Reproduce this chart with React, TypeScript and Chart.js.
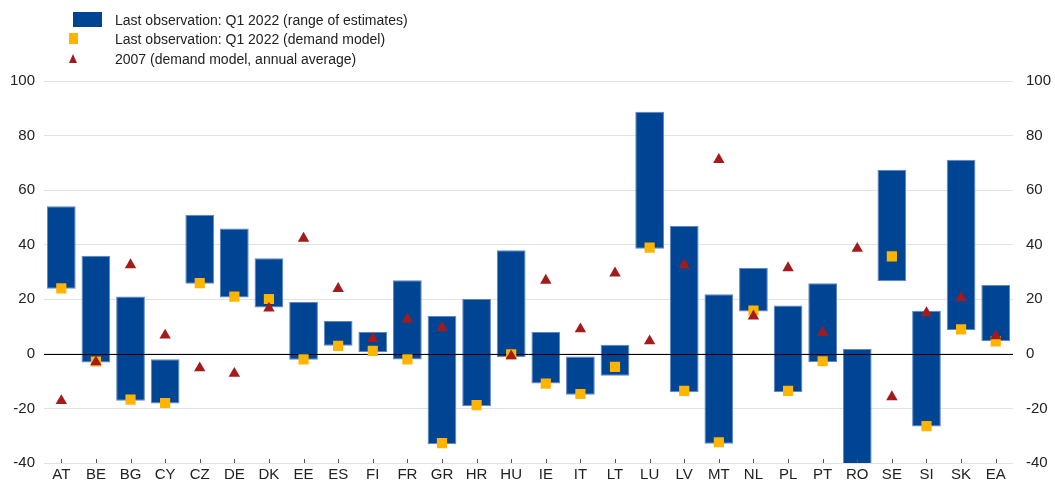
import React, { useEffect, useRef } from 'react';
import { Chart, registerables } from 'chart.js';
Chart.register(...registerables);

const categories = ['AT', 'BE', 'BG', 'CY', 'CZ', 'DE', 'DK', 'EE', 'ES', 'FI', 'FR', 'GR', 'HR', 'HU', 'IE', 'IT', 'LT', 'LU', 'LV', 'MT', 'NL', 'PL', 'PT', 'RO', 'SE', 'SI', 'SK', 'EA'];
const rangeLow = [23.9, -3.2, -17.2, -18.2, 25.7, 20.7, 17, -2.2, 3, 0.7, -2.1, -33.1, -19.2, -1.2, -10.9, -15, -8, 38.5, -14.1, -32.9, 15.5, -14, -3, -45, 26.6, -26.6, 8.7, 4.6];
const rangeHigh = [54.1, 36, 21, -2, 51, 45.9, 35, 19, 12, 8, 27, 13.9, 20.1, 38, 8, -1, 3.3, 88.7, 46.9, 21.8, 31.6, 17.7, 25.9, 1.8, 67.5, 15.8, 71.1, 25.2];
const demandModel = [24, -2.8, -16.8, -18, 25.9, 21, 20.1, -2, 2.9, 1.1, -2, -32.7, -18.8, -0.2, -10.9, -14.7, -4.8, 38.9, -13.6, -32.4, 15.9, -13.6, -2.7, null, 35.7, -26.5, 9, 4.6];
const avg2007 = [-17.2, -3, 32.6, 6.8, -5.2, -7.2, 16.7, 42.3, 23.9, 5.6, 12.7, 9.6, null, -0.8, 26.9, 9.1, 29.6, 4.7, 32.6, 71.2, 13.8, 31.5, 7.8, 38.6, -15.8, 15, 20.6, 6.6];
const yMin = -40;
const yMax = 100;
const yStep = 20;

const legendLabels = [
  'Last observation: Q1 2022 (range of estimates)',
  'Last observation: Q1 2022 (demand model)',
  '2007 (demand model, annual average)',
];

const BLUE = '#004494';
const YELLOW = '#FFB400';
const RED = '#A31B1B';
const FONT = "'Liberation Sans', Arial, sans-serif";

const overlayPlugin = {
  id: 'overlay',
  afterDatasetDraw(chart: any, args: any) {
    if (args.index !== 0) return;
    const { ctx, chartArea } = chart;
    const y = chart.scales.y.getPixelForValue(0);
    ctx.save();
    ctx.strokeStyle = '#000';
    ctx.lineWidth = 1;
    ctx.beginPath();
    ctx.moveTo(chartArea.left, Math.round(y) + 0.5);
    ctx.lineTo(chartArea.right, Math.round(y) + 0.5);
    ctx.stroke();
    ctx.restore();
  },
  afterDraw(chart: any) {
    const { ctx, chartArea } = chart;
    const xs = chart.scales.x;
    ctx.save();
    ctx.strokeStyle = '#555';
    ctx.lineWidth = 1;
    for (let i = 0; i < categories.length; i++) {
      const x = Math.round(xs.getPixelForValue(i)) + 0.5;
      ctx.beginPath();
      ctx.moveTo(x, chartArea.bottom - 4);
      ctx.lineTo(x, chartArea.bottom);
      ctx.stroke();
    }
    ctx.restore();
  },
};

export default function App() {
  const ref = useRef<HTMLCanvasElement | null>(null);
  useEffect(() => {
    if (!ref.current) return;
    const tickFont = { family: FONT, size: 15 };
    const chart = new Chart(ref.current, {
      type: 'bar',
      data: {
        labels: categories,
        datasets: [
          {
            type: 'bar',
            label: legendLabels[0],
            data: rangeLow.map((lo, i) => [lo, rangeHigh[i]]) as any,
            backgroundColor: BLUE,
            borderColor: '#5f86c2',
            borderWidth: 1,
            borderSkipped: false,
            barPercentage: 0.83,
            categoryPercentage: 1,
            order: 2,
            yAxisID: 'y',
          },
          {
            type: 'line',
            label: legendLabels[1],
            data: demandModel as any,
            showLine: false,
            pointStyle: 'rect',
            pointRadius: 7.2,
            backgroundColor: YELLOW,
            borderColor: YELLOW,
            pointBorderWidth: 0,
            order: 1,
            yAxisID: 'y',
          },
          {
            type: 'line',
            label: legendLabels[2],
            data: avg2007 as any,
            showLine: false,
            pointStyle: 'triangle',
            pointRadius: 6.6,
            backgroundColor: RED,
            borderColor: RED,
            pointBorderWidth: 0,
            order: 0,
            yAxisID: 'y',
          },
        ],
      },
      options: {
        animation: false,
        responsive: false,
        layout: { padding: { top: 81, left: 0, right: 0, bottom: 0 } },
        plugins: { legend: { display: false }, tooltip: { enabled: false }, title: { display: false } },
        scales: {
          x: {
            offset: true,
            grid: { display: false, drawTicks: false, offset: false },
            border: { display: false },
            ticks: { padding: 3, autoSkip: false, maxRotation: 0, color: '#222', font: tickFont },
            afterFit: (s: any) => { s.height = 20; },
          },
          y: {
            position: 'left',
            min: yMin,
            max: yMax,
            ticks: { stepSize: yStep, padding: 9, color: '#222', font: tickFont },
            grid: { color: '#e2e2e2', lineWidth: 1, drawTicks: false },
            border: { display: false },
            afterFit: (s: any) => { s.width = 44; },
          },
          y2: {
            position: 'right',
            min: yMin,
            max: yMax,
            ticks: { stepSize: yStep, padding: 13, color: '#222', font: tickFont },
            grid: { display: false, drawTicks: false },
            border: { display: false },
            afterFit: (s: any) => { s.width = 42; },
          },
        },
      } as any,
      plugins: [overlayPlugin],
    });
    return () => chart.destroy();
  }, []);

  const textStyle: React.CSSProperties = {
    position: 'absolute',
    left: 115,
    fontFamily: FONT,
    fontSize: 14,
    color: '#222',
    lineHeight: '16px',
    whiteSpace: 'nowrap',
  };

  return (
    <div style={{ position: 'fixed', left: 0, top: 0, width: 1055, height: 485, background: '#fff' }}>
      <canvas ref={ref} width={1055} height={485} style={{ position: 'absolute', left: 0, top: 0 }} />
      <div style={{ position: 'absolute', left: 73, top: 12, width: 29, height: 15, background: BLUE }} />
      <div style={{ ...textStyle, top: 12 }}>{legendLabels[0]}</div>
      <div style={{ position: 'absolute', left: 69, top: 33, width: 9, height: 11, background: YELLOW }} />
      <div style={{ ...textStyle, top: 31 }}>{legendLabels[1]}</div>
      <div style={{ position: 'absolute', left: 69, top: 54, width: 0, height: 0, borderLeft: '4.5px solid transparent', borderRight: '4.5px solid transparent', borderBottom: '9px solid ' + RED }} />
      <div style={{ ...textStyle, top: 51 }}>{legendLabels[2]}</div>
    </div>
  );
}
